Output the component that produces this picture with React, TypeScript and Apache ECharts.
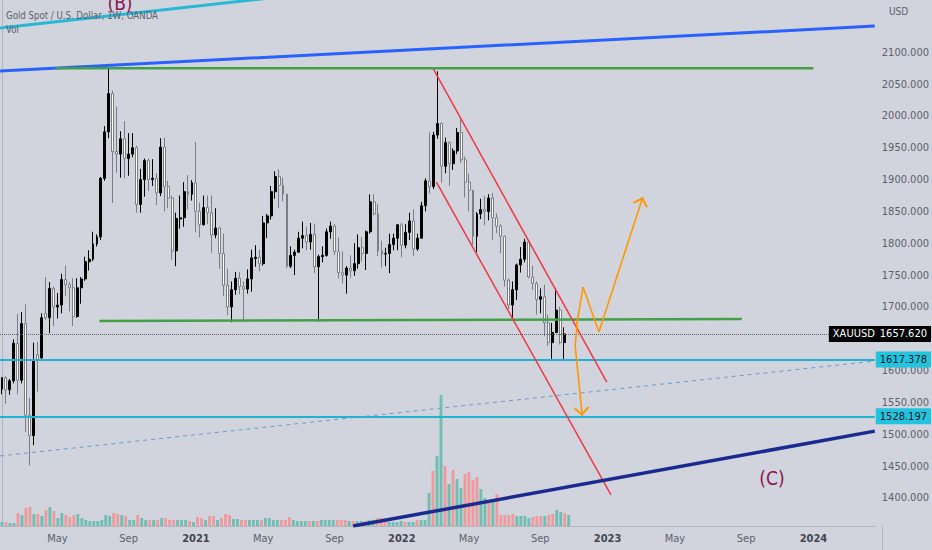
import { useEffect, useRef } from 'react'
import * as echarts from 'echarts'

const FONT = "'Liberation Sans Narrow', 'DejaVu Sans Condensed', Roboto, sans-serif"

const firstWeek = '2020-01-27'
const weekCount = 221

// weekly candles, [open, close, low, high]
const candles = [
  [1571, 1589, 1563, 1589], [1589, 1570, 1548, 1591], [1570, 1584, 1562, 1587], [1584, 1643, 1580, 1649],
  [1643, 1585, 1563, 1689], [1585, 1674, 1580, 1692], [1674, 1530, 1504, 1704], [1530, 1498, 1451, 1557],
  [1498, 1617, 1483, 1644], [1625, 1617, 1567, 1645], [1620, 1683, 1615, 1690], [1690, 1683, 1680, 1747],
  [1683, 1729, 1659, 1739], [1729, 1700, 1670, 1732], [1700, 1703, 1682, 1722], [1703, 1743, 1690, 1752],
  [1743, 1735, 1717, 1765], [1735, 1730, 1693, 1739], [1730, 1685, 1670, 1745], [1685, 1730, 1683, 1745],
  [1730, 1744, 1705, 1747], [1744, 1771, 1741, 1779], [1771, 1775, 1757, 1789], [1775, 1799, 1772, 1818],
  [1799, 1810, 1795, 1814], [1810, 1902, 1805, 1904], [1902, 1975, 1898, 1984], [1975, 2035, 1965, 2075],
  [2035, 1944, 1863, 2040], [1944, 1940, 1911, 2015], [1940, 1964, 1903, 1976], [1964, 1933, 1902, 1992],
  [1933, 1940, 1906, 1973], [1940, 1950, 1935, 1973], [1950, 1861, 1848, 1953], [1861, 1900, 1848, 1917],
  [1900, 1930, 1873, 1933], [1930, 1900, 1882, 1933], [1900, 1902, 1890, 1932], [1902, 1879, 1860, 1910],
  [1879, 1951, 1874, 1965], [1951, 1889, 1850, 1966], [1889, 1871, 1855, 1898], [1871, 1788, 1774, 1875],
  [1788, 1839, 1764, 1848], [1838, 1840, 1823, 1875], [1840, 1881, 1826, 1896], [1881, 1877, 1853, 1907],
  [1877, 1895, 1867, 1899], [1895, 1850, 1817, 1959], [1850, 1829, 1809, 1864], [1829, 1856, 1828, 1875],
  [1856, 1848, 1830, 1875], [1848, 1813, 1785, 1875], [1813, 1824, 1808, 1855], [1824, 1784, 1760, 1826],
  [1784, 1734, 1717, 1815], [1734, 1700, 1687, 1760], [1700, 1727, 1676, 1740], [1727, 1745, 1719, 1755],
  [1745, 1732, 1720, 1755], [1732, 1728, 1677, 1740], [1728, 1744, 1721, 1759], [1744, 1777, 1724, 1790],
  [1776, 1778, 1763, 1797], [1778, 1768, 1756, 1790], [1768, 1832, 1765, 1843], [1832, 1843, 1808, 1846],
  [1843, 1881, 1837, 1890], [1881, 1905, 1870, 1913], [1905, 1891, 1855, 1916], [1891, 1877, 1866, 1903],
  [1877, 1764, 1761, 1878], [1764, 1781, 1761, 1795], [1781, 1786, 1750, 1790], [1786, 1808, 1785, 1818],
  [1808, 1812, 1792, 1834], [1812, 1802, 1789, 1826], [1802, 1814, 1790, 1832], [1814, 1763, 1753, 1831],
  [1763, 1779, 1677, 1782], [1779, 1781, 1770, 1795], [1781, 1818, 1779, 1823], [1818, 1827, 1807, 1834],
  [1827, 1787, 1782, 1830], [1787, 1754, 1745, 1809], [1754, 1750, 1737, 1787], [1750, 1761, 1721, 1764],
  [1761, 1757, 1746, 1781], [1757, 1768, 1749, 1800], [1768, 1793, 1760, 1814], [1793, 1784, 1771, 1810],
  [1784, 1818, 1758, 1820], [1818, 1865, 1815, 1877], [1865, 1846, 1844, 1877], [1846, 1788, 1780, 1861],
  [1788, 1783, 1762, 1804], [1783, 1784, 1764, 1793], [1784, 1798, 1753, 1815], [1798, 1808, 1789, 1815],
  [1808, 1829, 1789, 1830], [1829, 1797, 1778, 1832], [1797, 1817, 1792, 1830], [1817, 1835, 1805, 1848],
  [1835, 1791, 1780, 1853], [1791, 1808, 1788, 1815], [1808, 1859, 1807, 1865], [1859, 1898, 1850, 1902],
  [1898, 1889, 1878, 1974], [1889, 1970, 1885, 1975], [1970, 1988, 1964, 2070], [1988, 1921, 1895, 1990],
  [1921, 1958, 1910, 1966], [1958, 1925, 1890, 1960], [1925, 1945, 1915, 1949], [1945, 1974, 1940, 1981],
  [1974, 1931, 1926, 1998], [1931, 1896, 1872, 1936], [1896, 1883, 1850, 1909], [1883, 1811, 1797, 1884],
  [1811, 1846, 1786, 1849], [1846, 1853, 1838, 1870], [1853, 1850, 1828, 1874], [1850, 1871, 1836, 1877],
  [1871, 1840, 1805, 1879], [1840, 1827, 1816, 1847], [1827, 1811, 1784, 1830], [1811, 1742, 1732, 1812],
  [1742, 1703, 1697, 1745], [1703, 1727, 1681, 1740], [1727, 1766, 1711, 1768], [1766, 1775, 1754, 1794],
  [1775, 1802, 1770, 1807], [1802, 1747, 1745, 1804], [1747, 1737, 1727, 1765], [1737, 1712, 1688, 1740],
  [1712, 1716, 1690, 1729], [1716, 1675, 1654, 1735], [1675, 1644, 1639, 1688], [1644, 1660, 1615, 1675],
  [1660, 1695, 1659, 1730], [1695, 1644, 1641, 1700], [1644, 1657.62, 1617, 1668],
]

// weekly volume (K)
const volumes = [
  4, 4, 3, 3, 13, 11, 18, 19, 12, 12, 10, 16, 19, 15, 8, 13, 11, 9, 11, 12,
  8, 6, 5, 5, 5, 6, 11, 10, 13, 12, 11, 10, 6, 6, 11, 8, 6, 6, 6, 6,
  8, 8, 6, 6, 6, 6, 6, 5, 4, 9, 8, 6, 10, 10, 6, 8, 12, 11, 7, 7,
  6, 6, 6, 6, 6, 6, 8, 8, 6, 6, 6, 6, 9, 6, 5, 5, 5, 5, 5, 5,
  6, 6, 6, 6, 6, 6, 6, 5, 5, 5, 5, 5, 6, 6, 8, 8, 7, 4, 4, 4,
  5, 4, 4, 4, 6, 6, 6, 33, 55, 70, 131, 60, 42, 56, 47, 38, 52, 54, 46, 49,
  37, 28, 24, 26, 32, 11, 11, 11, 12, 10, 10, 10, 8, 9, 10, 10, 10, 11, 12, 16,
  14, 13, 11,
]

const priceTicks = [1400, 1450, 1500, 1550, 1600, 1650, 1700, 1750, 1800, 1850, 1900, 1950, 2000, 2050, 2100]
const timeTicks: [string, string][] = [
  ['2020-05-04', 'May'], ['2020-09-07', 'Sep'], ['2021-01-04', '2021'], ['2021-05-03', 'May'],
  ['2021-09-06', 'Sep'], ['2022-01-03', '2022'], ['2022-05-02', 'May'], ['2022-09-05', 'Sep'],
  ['2023-01-02', '2023'], ['2023-05-01', 'May'], ['2023-09-04', 'Sep'], ['2024-01-01', '2024'],
]

const lastPrice = 1657.62
const supportLevels = [1617.378, 1528.197]

// drawings: [weeks since first candle, price]
const cyanTrend = [[-0.5, 2138], [66, 2184]]
const blueTrend = [[-0.5, 2070.5], [220.5, 2141]]
const topRange = [[13.5, 2075], [205, 2075]]
const bottomRange = [[24.6, 1678], [186.9, 1681]]
const dashedTrend = [[-0.5, 1466], [220.5, 1615]]
const channelUpper = [[109.0, 2073.6], [152.8, 1582]]
const channelLower = [[109.75, 1896], [153.85, 1404.7]]
const navyTrend = [[88.7, 1356], [220.5, 1505]]
const pathUp = [[145.1, 1668.5], [146.8, 1731.3], [150.8, 1660.7], [161.9, 1872.6]]
const pathDown = [[145.3, 1671.7], [144.8, 1640], [146.6, 1528.8]]

const ARROW =
  'path://M10,10 L17.8,17.8 L16.4,19.2 L10,12.8 L3.6,19.2 L2.2,17.8 Z M0,0 L0.1,0 L0,0.1 Z M20,20 L19.9,20 L20,19.9 Z'

function segments(points: number[][]) {
  const out = []
  for (let i = 0; i < points.length - 1; i++) out.push({ coords: [points[i], points[i + 1]] })
  return out
}

export default function App() {
  const chartRef = useRef<HTMLDivElement>(null)

  useEffect(() => {
    document.body.style.margin = '0'
    if (!chartRef.current) return
    const chart = echarts.init(chartRef.current, undefined, { renderer: 'svg' })

    const start = Date.parse(firstWeek + 'T00:00:00Z')
    const weeks: string[] = []
    for (let i = 0; i < weekCount; i++) {
      weeks.push(new Date(start + i * 7 * 86400000).toISOString().slice(0, 10))
    }
    const tickMap = new Map(timeTicks)

    const trend = (data: number[][], color: string, width: number, type: any = 'solid') => ({
      type: 'line',
      xAxisIndex: 1,
      yAxisIndex: 0,
      data,
      symbol: 'none',
      silent: true,
      z: 5,
      lineStyle: { color, width, type },
    })

    const priceLabel = (text: string, bg: string, fg: string, position: string) => ({
      show: true,
      position,
      formatter: text,
      backgroundColor: bg,
      color: fg,
      fontFamily: FONT,
      fontSize: 11,
      padding: [3, 4, 2, 4],
      distance: 1,
    })

    const option = {
      animation: false,
      backgroundColor: '#d1d4dc',
      textStyle: { fontFamily: FONT },
      grid: [
        { left: 0, right: 50, top: 0, bottom: 24 },
        { left: 0, right: 50, top: 0, bottom: 24 },
      ],
      xAxis: [
        {
          type: 'category',
          gridIndex: 0,
          data: weeks,
          axisLine: { lineStyle: { color: '#b2b5be' } },
          axisTick: { show: false },
          splitLine: { show: false },
          axisLabel: {
            interval: (_i: number, v: string) => tickMap.has(v),
            formatter: (v: string) => {
              const t = tickMap.get(v) || ''
              return /^\d{4}$/.test(t) ? `{y|${t}}` : t
            },
            color: '#5d606b',
            fontSize: 11,
            margin: 7,
            rich: { y: { fontWeight: 'bold', color: '#434651', fontSize: 11 } },
          },
        },
        { type: 'value', gridIndex: 0, min: -0.5, max: weekCount - 0.5, show: false },
        { type: 'category', gridIndex: 1, data: weeks, show: false },
      ],
      yAxis: [
        {
          type: 'value',
          gridIndex: 0,
          position: 'right',
          min: 1356,
          max: 2182,
          axisLine: { show: true, lineStyle: { color: '#b2b5be' } },
          axisTick: { show: false },
          splitLine: { show: false },
          axisLabel: {
            customValues: priceTicks,
            formatter: (v: number) => v.toFixed(3),
            color: '#5d606b',
            fontSize: 11,
            margin: 7,
          },
        },
        { type: 'value', gridIndex: 1, min: 0, max: 526, show: false },
      ],
      series: [
        {
          type: 'bar',
          xAxisIndex: 2,
          yAxisIndex: 1,
          barWidth: '72%',
          silent: true,
          data: volumes.map((v, i) => ({
            value: v,
            itemStyle: { color: candles[i][1] >= candles[i][0] ? '#72bdb2' : '#eb9c9e' },
          })),
        },
        {
          type: 'candlestick',
          xAxisIndex: 0,
          yAxisIndex: 0,
          data: candles,
          barWidth: 2.4,
          silent: true,
          itemStyle: {
            color: '#000000',
            color0: '#ffffff',
            borderColor: '#000000',
            borderColor0: '#7a7d87',
            borderWidth: 1,
          },
          markLine: {
            silent: true,
            symbol: ['none', 'none'],
            data: [
              {
                yAxis: lastPrice,
                lineStyle: { type: 'dotted', color: '#5d606b', width: 1 },
                label: priceLabel(lastPrice.toFixed(3), '#000000', '#ffffff', 'end'),
              },
              {
                yAxis: lastPrice,
                lineStyle: { type: 'dotted', color: '#5d606b', width: 1 },
                label: { ...priceLabel('XAUUSD', '#000000', '#ffffff', 'insideEnd'), distance: -4 },
              },
              ...supportLevels.map((p) => ({
                yAxis: p,
                lineStyle: { type: 'solid', color: '#1fb3d2', width: 2 },
                label: priceLabel(p.toFixed(3), '#22c3de', '#131722', 'end'),
              })),
            ],
          },
        },
        trend(dashedTrend, '#6b9ad6', 1, [4, 4]),
        trend(cyanTrend, '#27b8d6', 3),
        trend(blueTrend, '#2962ff', 3),
        trend(topRange, '#43a047', 2.5),
        trend(bottomRange, '#43a047', 2.5),
        trend(channelUpper, '#f23645', 1.5),
        trend(channelLower, '#f23645', 1.5),
        trend(navyTrend, '#1a2a8f', 3.5),
        {
          type: 'lines',
          coordinateSystem: 'cartesian2d',
          xAxisIndex: 1,
          yAxisIndex: 0,
          silent: true,
          z: 6,
          symbol: 'none',
          lineStyle: { color: '#ff9800', width: 1.6, opacity: 1 },
          data: [...segments(pathUp.slice(0, -1)), ...segments(pathDown.slice(0, -1))],
        },
        {
          type: 'lines',
          coordinateSystem: 'cartesian2d',
          xAxisIndex: 1,
          yAxisIndex: 0,
          silent: true,
          z: 6,
          symbol: ['none', ARROW],
          symbolSize: 20,
          lineStyle: { color: '#ff9800', width: 1.6, opacity: 1 },
          data: [
            { coords: pathUp.slice(-2) },
            { coords: pathDown.slice(-2) },
          ],
        },
      ],
      graphic: [
        {
          type: 'text',
          x: 6,
          y: 9,
          scaleX: 0.87,
          z: 100,
          style: { text: 'Gold Spot / U.S. Dollar, 1W, OANDA', fill: '#5d606b', fontSize: 11, fontFamily: FONT },
        },
        {
          type: 'text',
          x: 6,
          y: 23,
          scaleX: 0.87,
          z: 100,
          style: { text: 'Vol', fill: '#5d606b', fontSize: 11, fontFamily: FONT },
        },
        {
          type: 'text',
          x: 120,
          y: 3,
          z: 100,
          style: { text: '(B)', fill: '#8a1550', fontSize: 19, fontFamily: FONT, align: 'center', verticalAlign: 'middle' },
        },
        {
          type: 'text',
          x: 772,
          y: 478,
          z: 100,
          style: { text: '(C)', fill: '#8a1550', fontSize: 19, fontFamily: FONT, align: 'center', verticalAlign: 'middle' },
        },
        {
          type: 'text',
          x: 889,
          y: 6,
          z: 100,
          style: { text: 'USD', fill: '#5d606b', fontSize: 10, fontFamily: FONT },
        },
        {
          type: 'line',
          z: 100,
          shape: { x1: 882.5, y1: 526, x2: 882.5, y2: 550 },
          style: { stroke: '#b2b5be', lineWidth: 1 },
        },
      ],
    }

    chart.setOption(option as any)

    return () => {
      chart.dispose()
    }
  }, [])

  return <div ref={chartRef} style={{ width: 932, height: 550 }} />
}
